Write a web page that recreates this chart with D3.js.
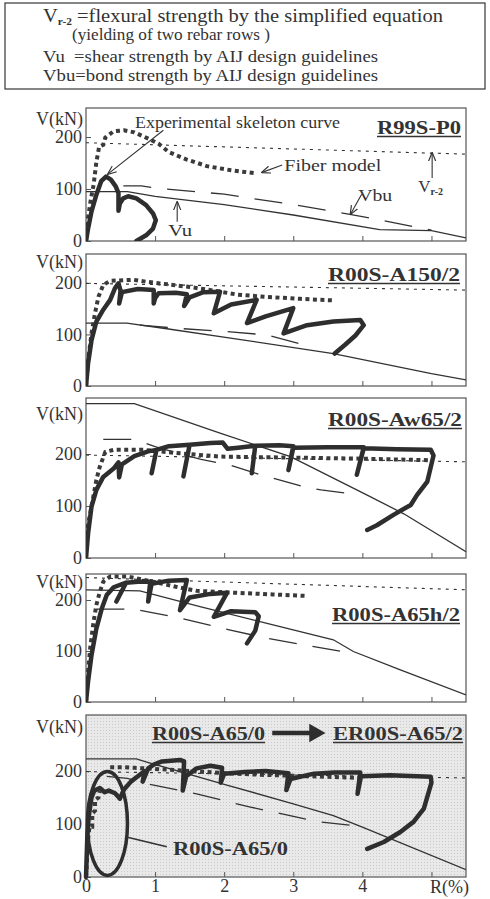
<!DOCTYPE html>
<html><head><meta charset="utf-8">
<script src="https://cdn.jsdelivr.net/npm/d3@7"></script>
<style>
body{margin:0;background:#fff;}
svg{display:block;font-family:"Liberation Serif","Times New Roman",serif;}
</style></head><body><svg id="c" width="490" height="899"></svg>
<script>
// ---------------- DATA ----------------
const xTickValues = [0,1,2,3,4,5];
const xTickLabels = ["0","1","2","3","4",""];
const yTickValues = [0,100,200];
const yTickLabels = ["0","100","200"];
const panelTitles = ["R99S-P0","R00S-A150/2","R00S-Aw65/2","R00S-A65h/2","R00S-A65/0"];
const panel5Target = "ER00S-A65/2";
const legendLines = ["=flexural strength by the simplified equation","(yielding of two rebar rows )","Vu  =shear strength by AIJ design guidelines","Vbu=bond strength by AIJ design guidelines"];

// Panel 1: R99S-P0  [R(%), V(kN)]
const p1Skeleton = [[0,0],[0.03,24],[0.08,57],[0.15,89],[0.22,115],[0.29,124],[0.36,118],[0.43,105],[0.47,92],[0.47,58],[0.49,72],[0.54,82],[0.61,86],[0.73,82],[0.87,69],[0.97,53],[1.01,40],[0.97,24],[0.87,11],[0.73,0]];
const p1Fiber = [[0,0],[0.03,45],[0.07,80],[0.11,108],[0.15,152],[0.19,181],[0.25,185],[0.28,199],[0.4,211],[0.55,213],[0.7,209],[0.9,197],[1.05,187],[1.2,171],[1.45,157],[1.75,144],[2.1,136],[2.47,130]];
const p1Vu = [[0,95],[0.6,95],[1,86],[2,70],[3,50],[4.25,22],[5.0,20],[5.5,6]];
const p1Vbu = [[0.54,106],[0.8,106],[1,102],[2,90],[3,70],[4,47],[5,21]];
const p1Vr2 = [[0,189],[5.5,167]];

// Panel 2: R00S-A150/2
const p2Skeleton = [[0,0],[0.03,44],[0.08,89],[0.15,125],[0.25,148],[0.35,167],[0.42,190],[0.47,199],[0.5,185],[0.48,160],[0.52,182],[0.75,188],[0.98,186],[0.98,160],[1.0,170],[1.05,180],[1.3,181],[1.46,178],[1.42,155],[1.5,172],[1.7,182],[1.94,183],[1.85,141],[2.1,158],[2.47,167],[2.33,122],[2.6,135],[3.0,151],[2.86,102],[3.2,118],[3.58,125],[3.97,128],[4.02,118],[3.9,98],[3.75,80],[3.6,63]];
const p2Fiber = [[0,0],[0.03,50],[0.08,102],[0.13,141],[0.18,173],[0.25,196],[0.35,204],[0.69,206],[0.88,202],[1.07,199],[1.5,192],[1.9,184],[2.2,177],[2.6,173],[3.1,169],[3.58,166]];
const p2Vu = [[0,122],[0.59,122],[1.17,111],[2.14,92],[3.58,63],[5.0,24],[5.5,12]];
const p2Vbu = [[0.78,118],[1.31,112],[2.09,105],[2.62,99],[3.15,80]];
const p2Vr2 = [[0,199],[5.5,186]];

// Panel 3: R00S-Aw65/2
const p3Skeleton = [[0,0],[0.03,47],[0.08,99],[0.15,131],[0.25,156],[0.4,172],[0.47,184],[0.48,155],[0.52,180],[0.7,196],[0.9,205],[1.02,208],[0.95,163],[1.02,208],[1.2,215],[1.5,218],[1.41,157],[1.5,218],[1.8,221],[1.98,222],[2.05,210],[2.2,212],[2.45,216],[2.4,163],[2.45,216],[2.8,217],[3.0,215],[2.93,169],[3.0,212],[3.5,213],[4.02,213],[3.92,160],[4.02,211],[4.5,209],[4.99,208],[5.03,197],[4.94,147],[4.79,121],[4.7,102],[4.45,83],[4.21,63],[4.07,54]];
const p3Fiber = [[0,0],[0.02,57],[0.08,99],[0.15,150],[0.2,176],[0.28,204],[0.4,208],[0.83,208],[1.3,202],[1.94,195],[3,193],[4,191],[5.0,188]];
const p3Vu = [[0,297],[0.7,297],[1.94,240],[2.96,195],[4.07,121],[4.6,85],[5.5,12]];
const p3Vbu = [[0.25,228],[0.7,228],[1.0,214],[1.65,190],[2.1,178],[2.45,163],[3.15,137],[3.4,131],[3.87,123]];
const p3Vr2 = [[0,198],[5.5,185]];

// Panel 4: R00S-A65h/2
const p4Skeleton = [[0,0],[0.03,40],[0.08,92],[0.15,144],[0.23,184],[0.3,210],[0.4,225],[0.58,234],[0.44,197],[0.58,234],[0.75,236],[0.93,236],[0.9,197],[0.95,232],[1.2,238],[1.46,239],[1.36,180],[1.5,205],[1.8,212],[2.04,214],[1.85,167],[2.1,178],[2.45,176],[2.5,168],[2.45,140],[2.33,115]];
const p4Fiber = [[0,0],[0.03,59],[0.06,105],[0.11,158],[0.15,190],[0.2,216],[0.25,236],[0.35,246],[0.6,246],[0.9,238],[1.3,226],[1.6,218],[2.2,214],[2.7,211],[3.2,208]];
const p4Vu = [[0,220],[0.78,218],[1.65,187],[2.62,154],[3.58,122],[3.87,99],[4.55,63],[5.5,14]];
const p4Vbu = [[0.15,182],[0.7,182],[1.31,166],[2.09,141],[2.62,125],[3.15,112],[3.87,95]];
const p4Vr2 = [[0,244],[5.5,220]];

// Panel 5: R00S-A65/0 -> ER00S-A65/2
const p5PreSkeleton = [[0,0],[0.02,80],[0.04,115],[0.08,150],[0.12,163],[0.2,168],[0.27,160],[0.33,163],[0.42,158],[0.49,148]];
const p5PreFiber = [[0,0],[0.03,70],[0.05,95],[0.09,95],[0.09,120],[0.13,125],[0.13,145],[0.18,150],[0.2,162]];
const p5Skeleton = [[0.49,148],[0.55,165],[0.65,180],[0.75,190],[0.85,200],[0.82,180],[0.9,205],[0.98,212],[1.1,218],[1.36,221],[1.42,218],[1.4,163],[1.45,190],[1.6,205],[1.8,210],[1.97,206],[1.95,178],[2.0,195],[2.3,198],[2.6,200],[2.93,196],[2.9,164],[2.96,185],[3.3,195],[3.6,197],[3.97,197],[3.93,157],[3.98,190],[4.4,192],[4.99,189],[5.0,178],[4.89,129],[4.74,104],[4.55,85],[4.31,66],[4.07,53]];
const p5Fiber = [[0.35,207],[0.55,207],[0.7,206],[1.0,204],[1.5,200],[2,196],[2.5,193],[3,191],[3.5,189],[3.97,187]];
const p5Vu = [[0,223],[0.73,223],[0.88,217],[2.0,175],[3.0,138],[3.58,116],[4.0,94],[5.5,14]];
const p5Vbu = [[0.3,190],[0.6,186],[0.88,176],[1.6,157],[2.09,141],[2.38,132],[3.15,110],[3.39,104],[3.87,97]];
const p5Vr2 = [[0,199],[5.5,187]];

// ---------------- LAYOUT ----------------
const X0 = 86, X1 = 466, XMAX = 5.5;
const panels = [
  {top:108, bottom:241, ymax:255.8, vkn:125, sk:p1Skeleton, fb:p1Fiber, vu:p1Vu, vbu:p1Vbu, vr:p1Vr2, title:panelTitles[0], tx:377, tl:84, ty:134},
  {top:254, bottom:386, ymax:256, vkn:268, sk:p2Skeleton, fb:p2Fiber, vu:p2Vu, vbu:p2Vbu, vr:p2Vr2, title:panelTitles[1], tx:328, tl:132, ty:281},
  {top:398, bottom:558, ymax:307.7, vkn:420, sk:p3Skeleton, fb:p3Fiber, vu:p3Vu, vbu:p3Vbu, vr:p3Vr2, title:panelTitles[2], tx:328, tl:134, ty:426},
  {top:574, bottom:702, ymax:251, vkn:588, sk:p4Skeleton, fb:p4Fiber, vu:p4Vu, vbu:p4Vbu, vr:p4Vr2, title:panelTitles[3], tx:332, tl:128, ty:621},
  {top:715, bottom:877, ymax:305.7, vkn:733, sk:p5Skeleton, fb:p5Fiber, vu:p5Vu, vbu:p5Vbu, vr:p5Vr2, shaded:true}
];
const INK = "#333";
const svg = d3.select("#c");
const x = d3.scaleLinear().domain([0, XMAX]).range([X0, X1]);

const defs = svg.append("defs");
defs.append("marker").attr("id","arr").attr("viewBox","0 0 10 10").attr("refX",9).attr("refY",5)
  .attr("markerWidth",9).attr("markerHeight",9).attr("orient","auto-start-reverse").attr("markerUnits","userSpaceOnUse")
  .append("path").attr("d","M0,1 L10,5 L0,9").attr("fill","none").attr("stroke",INK).attr("stroke-width",1.3);
const pat = defs.append("pattern").attr("id","stip").attr("width",3).attr("height",3).attr("patternUnits","userSpaceOnUse");
pat.append("rect").attr("width",3).attr("height",3).attr("fill","#e9e9e9");
pat.append("rect").attr("x",1).attr("y",1).attr("width",1).attr("height",1).attr("fill","#c9c9c9");

// ---------------- LEGEND BOX ----------------
svg.append("rect").attr("x",5).attr("y",3).attr("width",480).attr("height",86)
  .attr("fill","#fff").attr("stroke","#444").attr("stroke-width",1.3);
const l1 = svg.append("text").attr("x",43).attr("y",22).attr("font-size",18).attr("fill",INK)
  .attr("textLength",400).attr("lengthAdjust","spacingAndGlyphs");
l1.append("tspan").text("V");
l1.append("tspan").attr("font-size",10).attr("font-weight","bold").attr("dy",3).text("r-2");
l1.append("tspan").attr("dy",-3).text(" " + legendLines[0]);
svg.append("text").attr("x",72).attr("y",40).attr("font-size",17).attr("fill",INK)
  .attr("textLength",198).attr("lengthAdjust","spacingAndGlyphs").text(legendLines[1]);
svg.append("text").attr("x",43).attr("y",61.5).attr("font-size",17).attr("fill",INK).attr("xml:space","preserve")
  .attr("textLength",335).attr("lengthAdjust","spacingAndGlyphs").text(legendLines[2]);
svg.append("text").attr("x",43).attr("y",81).attr("font-size",17).attr("fill",INK)
  .attr("textLength",335).attr("lengthAdjust","spacingAndGlyphs").text(legendLines[3]);

// ---------------- PANELS ----------------
panels.forEach((p, i) => {
  const y = d3.scaleLinear().domain([0, p.ymax]).range([p.bottom, p.top]);
  p.y = y;
  const g = svg.append("g");
  g.append("rect").attr("x",X0).attr("y",p.top).attr("width",X1-X0).attr("height",p.bottom-p.top)
    .attr("fill", p.shaded ? "url(#stip)" : "#fff").attr("stroke","#555").attr("stroke-width",1.2);
  const xa = d3.axisBottom(x).tickValues(xTickValues).tickSize(-5).tickPadding(i===4?2:0)
    .tickFormat((d,k)=> i===4 ? xTickLabels[k] : "");
  const gx = g.append("g").attr("transform",`translate(0,${p.bottom})`).call(xa);
  gx.select(".domain").remove();
  gx.selectAll("line").attr("stroke","#555");
  gx.selectAll("text").attr("font-size",18).attr("fill",INK).attr("font-family","Liberation Serif");
  const ya = d3.axisLeft(y).tickValues(yTickValues).tickSize(-5).tickPadding(4)
    .tickFormat((d,k)=>yTickLabels[k]);
  const gy = g.append("g").attr("transform",`translate(${X0},0)`).call(ya);
  gy.select(".domain").remove();
  gy.selectAll("line").attr("stroke","#555");
  gy.selectAll("text").attr("font-size",18).attr("fill",INK).attr("font-family","Liberation Serif");
  g.append("text").attr("x",83).attr("y",p.vkn).attr("text-anchor","end").attr("font-size",18).attr("fill",INK).text("V(kN)");

  const clipId = "clip"+i;
  defs.append("clipPath").attr("id",clipId).append("rect").attr("x",X0).attr("y",p.top).attr("width",X1-X0).attr("height",p.bottom-p.top);
  const plot = g.append("g").attr("clip-path",`url(#${clipId})`);
  const line = d3.line().x(d=>x(d[0])).y(d=>y(d[1]));

  plot.append("path").attr("d",line(p.vr)).attr("fill","none").attr("stroke",INK).attr("stroke-width",1.1).attr("stroke-dasharray","3,5");
  plot.append("path").attr("d",line(p.vu)).attr("fill","none").attr("stroke",INK).attr("stroke-width",1.3);
  plot.append("path").attr("d",line(p.vbu)).attr("fill","none").attr("stroke",INK).attr("stroke-width",1.3).attr("stroke-dasharray","28,16");
  plot.append("path").attr("d",line(p.fb)).attr("fill","none").attr("stroke","#3a3a3a").attr("stroke-width",4).attr("stroke-dasharray","4,3.5");
  plot.append("path").attr("d",line(p.sk)).attr("fill","none").attr("stroke","#2e2e2e").attr("stroke-width",4.5)
    .attr("stroke-linejoin","round").attr("stroke-linecap","round");

  if (p.title) {
    g.append("text").attr("x",p.tx).attr("y",p.ty).attr("font-size",19).attr("font-weight","bold").attr("fill",INK)
      .attr("textLength",p.tl).attr("lengthAdjust","spacingAndGlyphs").text(p.title);
    g.append("line").attr("x1",p.tx).attr("x2",p.tx+p.tl).attr("y1",p.ty+2.5).attr("y2",p.ty+2.5).attr("stroke",INK).attr("stroke-width",1.6);
  }
});

// ---------- Panel 1 annotations ----------
(function(){
  const p = panels[0], y = p.y;
  const t = (s,r,v,len,fs)=> svg.append("text").attr("x",x(r)).attr("y",y(v)).attr("font-size",fs||17).attr("fill",INK)
      .attr("textLength",len).attr("lengthAdjust","spacingAndGlyphs").text(s);
  const a = (r1,v1,r2,v2)=> svg.append("line").attr("x1",x(r1)).attr("y1",y(v1)).attr("x2",x(r2)).attr("y2",y(v2))
      .attr("stroke",INK).attr("stroke-width",1.1).attr("marker-end","url(#arr)");
  t("Experimental skeleton curve",0.71,217,205);
  a(1.12,213,0.32,129);
  t("Fiber model",2.87,135,97);
  a(2.84,146,2.55,132);
  t("Vbu",3.94,77,34);
  a(3.99,90,3.83,52);
  t("Vu",1.19,10,24);
  a(1.32,37,1.32,75);
  const vr = svg.append("text").attr("x",x(4.81)).attr("y",y(94)).attr("font-size",17).attr("fill",INK);
  vr.append("tspan").text("V");
  vr.append("tspan").attr("font-size",10).attr("font-weight","bold").attr("dy",3).text("r-2");
  a(5.01,121,5.01,169);
})();

// ---------- Panel 5 annotations ----------
(function(){
  const p = panels[4], y = p.y;
  const line = d3.line().x(d=>x(d[0])).y(d=>y(d[1]));
  svg.append("path").attr("d",line(p5PreFiber)).attr("fill","none").attr("stroke","#3a3a3a").attr("stroke-width",4).attr("stroke-dasharray","4,3.5");
  svg.append("path").attr("d",line(p5PreSkeleton)).attr("fill","none").attr("stroke","#2e2e2e").attr("stroke-width",4.5)
    .attr("stroke-linejoin","round").attr("stroke-linecap","round");
  svg.append("ellipse").attr("cx",x(0.31)).attr("cy",y(101)).attr("rx",x(0.6)-x(0.31)).attr("ry",y(3)-y(101))
    .attr("fill","none").attr("stroke","#2e2e2e").attr("stroke-width",3.5);
  svg.append("line").attr("x1",x(0.6)).attr("y1",y(75)).attr("x2",x(1.17)).attr("y2",y(57)).attr("stroke",INK).attr("stroke-width",1.6);
  svg.append("text").attr("x",173).attr("y",855).attr("font-size",19).attr("font-weight","bold").attr("fill",INK)
    .attr("textLength",115).attr("lengthAdjust","spacingAndGlyphs").text(panelTitles[4]);
  svg.append("text").attr("x",152).attr("y",740).attr("font-size",19).attr("font-weight","bold").attr("fill",INK)
    .attr("textLength",113).attr("lengthAdjust","spacingAndGlyphs").text(panelTitles[4]);
  svg.append("line").attr("x1",152).attr("x2",265).attr("y1",742.5).attr("y2",742.5).attr("stroke",INK).attr("stroke-width",1.6);
  svg.append("text").attr("x",333).attr("y",740).attr("font-size",19).attr("font-weight","bold").attr("fill",INK)
    .attr("textLength",130).attr("lengthAdjust","spacingAndGlyphs").text(panel5Target);
  svg.append("line").attr("x1",333).attr("x2",463).attr("y1",742.5).attr("y2",742.5).attr("stroke",INK).attr("stroke-width",1.6);
  svg.append("path").attr("d","M273,731.5 L310,731.5 L310,725 L324,733 L310,741 L310,734.5 L273,734.5 Z").attr("fill","#2e2e2e").attr("stroke","#2e2e2e").attr("stroke-width",1.5);
  svg.append("text").attr("x",430).attr("y",893).attr("font-size",18).attr("fill",INK).text("R(%)");
})();
</script></body></html>
